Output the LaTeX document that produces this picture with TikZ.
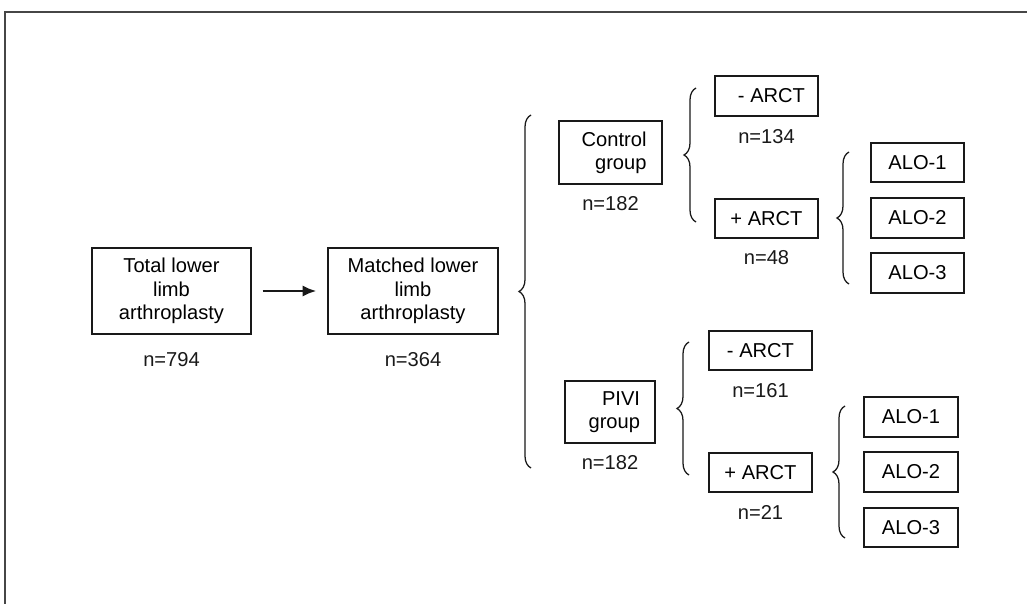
\documentclass[tikz,border=0pt]{standalone}
\usepackage{fontspec}
\setmainfont{Liberation Sans}
\usepackage{tikz}
\usetikzlibrary{arrows.meta, positioning, decorations.pathreplacing}
\definecolor{flowblack}{RGB}{25,25,25}
\definecolor{framegray}{RGB}{70,70,70}
\tikzset{
  bigbox/.style={
    rectangle, draw=flowblack, line width=1.3pt, fill=white,
    align=center, font=\fontsize{14.3}{16.5}\selectfont, inner sep=0pt
  },
  groupbox/.style={
    rectangle, draw=flowblack, line width=1.3pt, fill=white,
    align=right, font=\fontsize{14.3}{16.5}\selectfont, inner sep=0pt
  },
  smallbox/.style={
    rectangle, draw=flowblack, line width=1.3pt, fill=white,
    minimum height=0.98cm, align=center,
    font=\fontsize{14.3}{16.5}\selectfont, inner sep=0pt
  },
  count/.style={font=\fontsize{14.3}{16.5}\selectfont, inner sep=0pt, text=flowblack},
  splitbrace/.style={draw=flowblack, line width=0.9pt,
    decorate, decoration={brace, amplitude=0.3cm}},
  arrowflow/.style={-{Latex[length=3.4mm, width=2.8mm]}, line width=1.6pt, draw=flowblack}
}

\begin{document}
\begin{tikzpicture}[x=0.025cm, y=-0.025cm]

\useasboundingbox (0,0) rectangle (1027,604);
\draw[framegray, line width=1pt] (5,604) -- (5,12) -- (1027,12);

% Whole cohort and matched cohort
\node[bigbox, minimum width=3.975cm, minimum height=2.15cm] (total) at (171.5,291) {Total lower\\limb\\arthroplasty};
\node[count, below=0.42cm of total] (ntotal) {n=794};
\node[bigbox, minimum width=4.25cm, minimum height=2.15cm] (matched) at (413,291) {Matched lower\\limb\\arthroplasty};
\node[count, below=0.42cm of matched] (nmatched) {n=364};
\draw[arrowflow, shorten <=0.27cm, shorten >=0.27cm] (total) -- (matched);

\coordinate (mbot) at (531,468);
\coordinate (mtop) at (531,115);
\draw[splitbrace] (mbot) -- (mtop);

% Control group
\node[groupbox, minimum width=2.575cm, minimum height=1.575cm, text width=1.8cm] (control) at (610.5,152.5) {Control\\group};
\node[count, below=0.29cm of control] (ncontrol) {n=182};

\coordinate (cbot) at (696,222);
\coordinate (ctop) at (696,88);
\draw[splitbrace] (cbot) -- (ctop);

\node[smallbox, minimum width=2.575cm] (cminus) at (766.5,96) {\hspace{0.25cm}- ARCT};
\node[count, below=0.31cm of cminus] (ncminus) {n=134};
\node[smallbox, minimum width=2.575cm] (cplus) at (766.5,218.5) {+ ARCT};
\node[count, below=0.29cm of cplus] (ncplus) {n=48};

\coordinate (cabot) at (849,284);
\coordinate (catop) at (849,152);
\draw[splitbrace] (cabot) -- (catop);

\node[smallbox, minimum width=2.325cm] (calo1) at (917.5,162.5) {ALO-1};
\node[smallbox, minimum width=2.325cm] (calo2) at (917.5,218) {ALO-2};
\node[smallbox, minimum width=2.325cm] (calo3) at (917.5,273) {ALO-3};

% PIVI group
\node[groupbox, minimum width=2.25cm, minimum height=1.55cm, text width=1.5cm] (pivi) at (610,412) {PIVI\\group};
\node[count, below=0.29cm of pivi] (npivi) {n=182};

\coordinate (pbot) at (689,475);
\coordinate (ptop) at (689,342);
\draw[splitbrace] (pbot) -- (ptop);

\node[smallbox, minimum width=2.575cm] (pminus) at (760.5,350.5) {- ARCT};
\node[count, below=0.31cm of pminus] (npminus) {n=161};
\node[smallbox, minimum width=2.575cm] (pplus) at (760.5,472.5) {+ ARCT};
\node[count, below=0.31cm of pplus] (npplus) {n=21};

\coordinate (pabot) at (845,538);
\coordinate (patop) at (845,406);
\draw[splitbrace] (pabot) -- (patop);

\node[smallbox, minimum width=2.35cm] (palo1) at (911,417) {ALO-1};
\node[smallbox, minimum width=2.35cm] (palo2) at (911,472) {ALO-2};
\node[smallbox, minimum width=2.35cm] (palo3) at (911,527.5) {ALO-3};

\end{tikzpicture}
\end{document}
